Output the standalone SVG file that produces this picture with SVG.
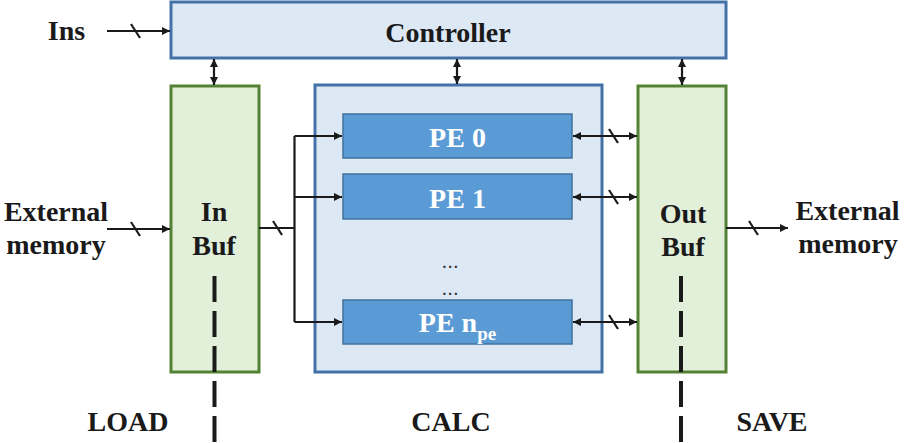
<svg xmlns="http://www.w3.org/2000/svg" width="905" height="443" viewBox="0 0 905 443">
<style>
.t{font-family:"Liberation Serif","Times New Roman",serif;font-weight:bold;font-size:28px;fill:#1a1a1a;text-anchor:middle}
.w{fill:#ffffff}
.blue{fill:#dde8f5;stroke:#4472a8;stroke-width:3}
.green{fill:#e2efd9;stroke:#548235;stroke-width:3}
.pe{fill:#5b9bd5;stroke:#41719c;stroke-width:1.5}
.ln{fill:none;stroke:#1a1a1a;stroke-width:2.2}
.sl{fill:none;stroke:#1a1a1a;stroke-width:2.2}
.dash{fill:none;stroke:#1a1a1a;stroke-width:4;stroke-dasharray:26 9}
.dots{font-family:"Liberation Serif",serif;font-weight:bold;font-size:15px;fill:#333;text-anchor:middle;letter-spacing:2px}
</style>
<defs>
<marker id="ah" viewBox="0 0 10 10" refX="10" refY="5" markerWidth="9" markerHeight="8" markerUnits="userSpaceOnUse" orient="auto-start-reverse">
<path d="M0,0 L10,5 L0,10 z" fill="#1a1a1a"/>
</marker>
</defs>

<g id="controller">
<rect class="blue" x="171" y="2" width="555" height="56"/>
<text class="t" x="448" y="42" font-size="30">Controller</text>
</g>

<g id="calc">
<rect class="blue" x="315" y="85" width="287" height="287" stroke-width="2"/>
</g>

<g id="inbuf">
<rect class="green" x="171" y="86" width="88" height="286"/>
<text class="t" x="214" y="221">In</text>
<text class="t" x="214" y="255">Buf</text>
</g>

<g id="outbuf">
<rect class="green" x="638" y="86" width="88" height="286"/>
<text class="t" x="683" y="223">Out</text>
<text class="t" x="683" y="256">Buf</text>
</g>

<g id="pe0">
<rect class="pe" x="343" y="114" width="229" height="44"/>
<text class="t w" x="457.5" y="147">PE 0</text>
</g>
<g id="pe1">
<rect class="pe" x="343" y="174" width="229" height="45"/>
<text class="t w" x="457.5" y="208">PE 1</text>
</g>
<g id="pen">
<rect class="pe" x="343" y="300" width="229" height="44"/>
<text class="t w" x="457.5" y="332">PE n<tspan font-size="19" dy="8">pe</tspan></text>
</g>

<g id="dots">
<text class="dots" x="451" y="268">...</text>
<text class="dots" x="451" y="295">...</text>
</g>

<g id="labels">
<text class="t" x="66.5" y="40">Ins</text>
<text class="t" x="56" y="221">External</text>
<text class="t" x="56" y="254">memory</text>
<text class="t" x="847.5" y="220">External</text>
<text class="t" x="848" y="253">memory</text>
<text class="t" x="128" y="431">LOAD</text>
<text class="t" x="451" y="431">CALC</text>
<text class="t" x="772" y="431">SAVE</text>
</g>

<g id="connectors">
<line class="ln" x1="107" y1="31" x2="170" y2="31" marker-end="url(#ah)"/>
<line class="sl" x1="131" y1="24" x2="140" y2="38"/>
<line class="ln" x1="107" y1="229" x2="170" y2="229" marker-end="url(#ah)"/>
<line class="sl" x1="131" y1="222" x2="140" y2="236"/>
<line class="ln" x1="726" y1="228" x2="788" y2="228" marker-end="url(#ah)"/>
<line class="sl" x1="749" y1="221" x2="758" y2="235"/>

<line class="ln" x1="214" y1="59" x2="214" y2="85" marker-start="url(#ah)" marker-end="url(#ah)"/>
<line class="ln" x1="457" y1="59" x2="457" y2="84" marker-start="url(#ah)" marker-end="url(#ah)"/>
<line class="ln" x1="682" y1="59" x2="682" y2="85" marker-start="url(#ah)" marker-end="url(#ah)"/>

<path class="ln" d="M259,228 H294.5 M294.5,136 V322"/>
<line class="sl" x1="273" y1="221" x2="282" y2="235"/>
<line class="ln" x1="294.5" y1="136" x2="342" y2="136" marker-end="url(#ah)"/>
<line class="ln" x1="294.5" y1="197" x2="342" y2="197" marker-end="url(#ah)"/>
<line class="ln" x1="294.5" y1="322" x2="342" y2="322" marker-end="url(#ah)"/>

<line class="ln" x1="573" y1="136" x2="637" y2="136" marker-start="url(#ah)" marker-end="url(#ah)"/>
<line class="sl" x1="609" y1="129" x2="618" y2="143"/>
<line class="ln" x1="573" y1="197" x2="637" y2="197" marker-start="url(#ah)" marker-end="url(#ah)"/>
<line class="sl" x1="609" y1="190" x2="618" y2="204"/>
<line class="ln" x1="573" y1="322" x2="637" y2="322" marker-start="url(#ah)" marker-end="url(#ah)"/>
<line class="sl" x1="609" y1="315" x2="618" y2="329"/>

<line class="dash" x1="214.5" y1="276" x2="214.5" y2="443"/>
<line class="dash" x1="681" y1="276" x2="681" y2="443"/>
</g>
</svg>
